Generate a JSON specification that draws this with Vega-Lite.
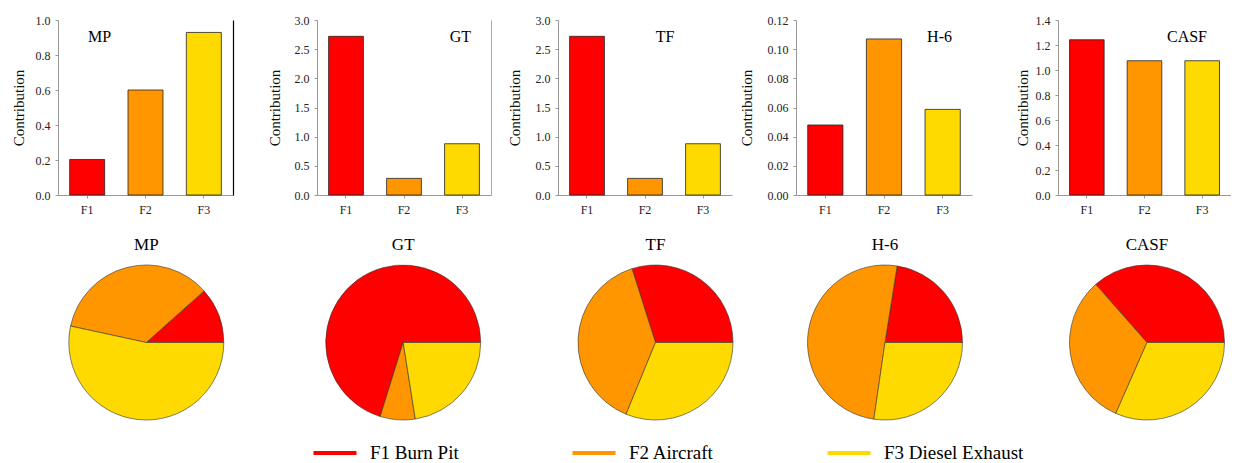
{
  "$schema": "https://vega.github.io/schema/vega-lite/v6.json",
  "padding": {"left": 11, "top": 14, "right": 0, "bottom": 0},
  "background": "white",
  "config": {
    "font": "Liberation Serif",
    "view": {"stroke": null},
    "axis": {
      "labelFont": "Liberation Serif",
      "titleFont": "Liberation Serif",
      "labelFontSize": 12,
      "labelColor": "#222",
      "titleFontSize": 15,
      "titleFontWeight": "normal",
      "titleColor": "#111",
      "domainColor": "#999",
      "tickColor": "#999",
      "tickSize": 3,
      "grid": false
    },
    "axisX": {"labelPadding": 6, "labelAngle": 0, "title": null},
    "axisY": {"labelPadding": 5, "titlePadding": 4},
    "title": {"font": "Liberation Serif", "fontWeight": "normal", "color": "#000"},
    "legend": {
      "orient": "none",
      "direction": "horizontal",
      "symbolType": "stroke",
      "symbolSize": 1850,
      "symbolStrokeWidth": 4,
      "labelFont": "Liberation Serif",
      "labelFontSize": 19,
      "labelColor": "#000",
      "labelOffset": 11,
      "columnPadding": 105,
      "labelLimit": 300
    }
  },
  "datasets": {
    "d": [
      {"site": "MP", "source": "F1", "contribution": 0.203, "share": 11.6},
      {"site": "MP", "source": "F2", "contribution": 0.600, "share": 35.0},
      {"site": "MP", "source": "F3", "contribution": 0.929, "share": 53.4},
      {"site": "GT", "source": "F1", "contribution": 2.72, "share": 70.2},
      {"site": "GT", "source": "F2", "contribution": 0.285, "share": 7.3},
      {"site": "GT", "source": "F3", "contribution": 0.879, "share": 22.5},
      {"site": "TF", "source": "F1", "contribution": 2.72, "share": 29.9},
      {"site": "TF", "source": "F2", "contribution": 0.285, "share": 38.9},
      {"site": "TF", "source": "F3", "contribution": 0.879, "share": 31.2},
      {"site": "H-6", "source": "F1", "contribution": 0.048, "share": 22.5},
      {"site": "H-6", "source": "F2", "contribution": 0.107, "share": 50.2},
      {"site": "H-6", "source": "F3", "contribution": 0.0587, "share": 27.3},
      {"site": "CASF", "source": "F1", "contribution": 1.242, "share": 36.5},
      {"site": "CASF", "source": "F2", "contribution": 1.074, "share": 31.9},
      {"site": "CASF", "source": "F3", "contribution": 1.074, "share": 31.6}
    ]
  },
  "spacing": 20,
  "vconcat": [
    {
      "spacing": 34,
      "hconcat": [
        {
          "width": 175, "height": 175,
          "title": {"text": "MP", "frame": "group", "anchor": "start", "dx": 30, "offset": -44, "baseline": "alphabetic", "fontSize": 16, "fontWeight": "normal"},
          "data": {"name": "d"},
          "transform": [{"filter": "datum.site === 'MP'"}],
          "layer": [
            {
              "mark": {"type": "line"},
              "encoding": {
                "x": {"field": "source", "type": "nominal"},
                "y": {"field": "contribution", "type": "quantitative", "axis": null},
                "color": {"field": "source", "type": "nominal",
                          "legend": {"title": null, "legendX": 253, "legendY": 409,
                                     "labelFont": "Liberation Serif", "labelFontSize": 19, "columnPadding": 105,
                                     "labelExpr": "datum.label == 'F1' ? 'F1 Burn Pit' : datum.label == 'F2' ? 'F2 Aircraft' : 'F3 Diesel Exhaust'",
                                     "encode": {"labels": {"update": {"font": {"value": "Liberation Serif"}}}}}}
              }
            },
            {
              "mark": {"type": "bar", "stroke": "#222", "strokeWidth": 0.8},
              "encoding": {
                "x": {"field": "source", "type": "nominal", "scale": {"paddingInner": 0.4, "paddingOuter": 0.2}},
                "y": {"field": "contribution", "type": "quantitative", "scale": {"domain": [0, 1.0], "nice": false},
                      "axis": {"title": "Contribution", "values": [0, 0.2, 0.4, 0.6, 0.8, 1.0], "format": ".1f", "minExtent": 28, "maxExtent": 28}},
                "color": {"field": "source", "type": "nominal",
                          "scale": {"domain": ["F1", "F2", "F3"], "range": ["#FF0000", "#FF9600", "#FFDA00"]}}
              }
            },
            {
              "mark": {"type": "tick", "opacity": 0},
              "encoding": {
                "y": {"field": "contribution", "type": "quantitative",
                      "axis": {"orient": "right", "labels": false, "ticks": false, "title": null, "domainColor": "#000", "domainWidth": 1.2}}
              }
            }
          ],
          "resolve": {"axis": {"y": "independent"}}
        },
        {
          "spacing": 16,
          "hconcat": [
            {
              "width": 174, "height": 175,
              "title": {"text": "GT", "frame": "group", "anchor": "end", "dx": -20, "offset": -44, "baseline": "alphabetic", "fontSize": 16, "fontWeight": "normal"},
              "data": {"name": "d"},
              "transform": [{"filter": "datum.site === 'GT'"}],
              "layer": [
                {
                  "mark": {"type": "bar", "stroke": "#222", "strokeWidth": 0.8},
                  "encoding": {
                    "x": {"field": "source", "type": "nominal", "scale": {"paddingInner": 0.4, "paddingOuter": 0.2}},
                    "y": {"field": "contribution", "type": "quantitative", "scale": {"domain": [0, 3.0], "nice": false},
                          "axis": {"title": "Contribution", "values": [0, 0.5, 1.0, 1.5, 2.0, 2.5, 3.0], "format": ".1f", "minExtent": 31, "maxExtent": 31}},
                    "color": {"field": "source", "type": "nominal"}
                  }
                },
                {
                  "mark": {"type": "tick", "opacity": 0},
                  "encoding": {
                    "y": {"field": "contribution", "type": "quantitative",
                          "axis": {"orient": "right", "labels": false, "ticks": false, "title": null, "domainColor": "#aaa"}}
                  }
                }
              ],
              "resolve": {"axis": {"y": "independent"}}
            },
            {
              "spacing": 7,
              "hconcat": [
                {
                  "width": 174, "height": 175,
                  "title": {"text": "TF", "frame": "group", "anchor": "middle", "dx": 20, "offset": -44, "baseline": "alphabetic", "fontSize": 16, "fontWeight": "normal"},
                  "data": {"name": "d"},
                  "transform": [{"filter": "datum.site === 'TF'"}],
                  "mark": {"type": "bar", "stroke": "#222", "strokeWidth": 0.8},
                  "encoding": {
                    "x": {"field": "source", "type": "nominal", "scale": {"paddingInner": 0.4, "paddingOuter": 0.2}},
                    "y": {"field": "contribution", "type": "quantitative", "scale": {"domain": [0, 3.0], "nice": false},
                          "axis": {"title": "Contribution", "values": [0, 0.5, 1.0, 1.5, 2.0, 2.5, 3.0], "format": ".1f", "minExtent": 32, "maxExtent": 32}},
                    "color": {"field": "source", "type": "nominal"}
                  }
                },
                {
                  "spacing": 43,
                  "hconcat": [
                    {
                      "width": 176, "height": 175,
                      "title": {"text": "H-6", "frame": "group", "anchor": "end", "dx": -20, "offset": -44, "baseline": "alphabetic", "fontSize": 16, "fontWeight": "normal"},
                      "data": {"name": "d"},
                      "transform": [{"filter": "datum.site === 'H-6'"}],
                      "mark": {"type": "bar", "stroke": "#222", "strokeWidth": 0.8},
                      "encoding": {
                        "x": {"field": "source", "type": "nominal", "scale": {"paddingInner": 0.4, "paddingOuter": 0.2}},
                        "y": {"field": "contribution", "type": "quantitative", "scale": {"domain": [0, 0.12], "nice": false},
                              "axis": {"title": "Contribution", "values": [0, 0.02, 0.04, 0.06, 0.08, 0.10, 0.12], "format": ".2f", "minExtent": 38, "maxExtent": 38}},
                        "color": {"field": "source", "type": "nominal"}
                      }
                    },
                    {
                      "width": 173, "height": 175,
                      "title": {"text": "CASF", "frame": "group", "anchor": "end", "dx": -24, "offset": -44, "baseline": "alphabetic", "fontSize": 16, "fontWeight": "normal"},
                      "data": {"name": "d"},
                      "transform": [{"filter": "datum.site === 'CASF'"}],
                      "mark": {"type": "bar", "stroke": "#222", "strokeWidth": 0.8},
                      "encoding": {
                        "x": {"field": "source", "type": "nominal", "scale": {"paddingInner": 0.4, "paddingOuter": 0.2}},
                        "y": {"field": "contribution", "type": "quantitative", "scale": {"domain": [0, 1.4], "nice": false},
                              "axis": {"title": "Contribution", "values": [0, 0.2, 0.4, 0.6, 0.8, 1.0, 1.2, 1.4], "format": ".1f", "minExtent": 24, "maxExtent": 24}},
                        "color": {"field": "source", "type": "nominal"}
                      }
                    }
                  ]
                }
              ]
            }
          ]
        }
      ]
    },
    {
      "spacing": 0,
      "hconcat": [
        {
          "width": 176.6, "height": 155,
          "title": {"text": "MP", "fontSize": 17, "offset": 10, "fontWeight": "normal"},
          "data": {"name": "d"},
          "transform": [{"filter": "datum.site === 'MP'"}],
          "mark": {"type": "arc", "stroke": "#333", "strokeWidth": 0.6},
          "encoding": {
            "theta": {"field": "share", "type": "quantitative", "stack": true, "scale": {"range": [1.5708, 7.854]}},
            "order": {"field": "source", "type": "nominal", "sort": "descending"},
            "color": {"field": "source", "type": "nominal"}
          }
        },
        {
          "width": 336.4, "height": 155,
          "title": {"text": "GT", "fontSize": 17, "offset": 10, "fontWeight": "normal"},
          "data": {"name": "d"},
          "transform": [{"filter": "datum.site === 'GT'"}],
          "mark": {"type": "arc", "stroke": "#333", "strokeWidth": 0.6},
          "encoding": {
            "theta": {"field": "share", "type": "quantitative", "stack": true, "scale": {"range": [1.5708, 7.854]}},
            "order": {"field": "source", "type": "nominal", "sort": "descending"},
            "color": {"field": "source", "type": "nominal"}
          }
        },
        {
          "width": 167, "height": 155,
          "title": {"text": "TF", "fontSize": 17, "offset": 10, "fontWeight": "normal"},
          "data": {"name": "d"},
          "transform": [{"filter": "datum.site === 'TF'"}],
          "mark": {"type": "arc", "stroke": "#333", "strokeWidth": 0.6},
          "encoding": {
            "theta": {"field": "share", "type": "quantitative", "stack": true, "scale": {"range": [1.5708, 7.854]}},
            "order": {"field": "source", "type": "nominal", "sort": "descending"},
            "color": {"field": "source", "type": "nominal"}
          }
        },
        {
          "spacing": 36.5,
          "hconcat": [
            {
              "width": 292, "height": 155,
              "title": {"text": "H-6", "fontSize": 17, "offset": 10, "fontWeight": "normal"},
              "data": {"name": "d"},
              "transform": [{"filter": "datum.site === 'H-6'"}],
              "mark": {"type": "arc", "stroke": "#333", "strokeWidth": 0.6},
              "encoding": {
                "theta": {"field": "share", "type": "quantitative", "stack": true, "scale": {"range": [1.5708, 7.854]}},
                "order": {"field": "source", "type": "nominal", "sort": "descending"},
                "color": {"field": "source", "type": "nominal"}
              }
            },
            {
              "width": 155, "height": 155,
              "title": {"text": "CASF", "fontSize": 17, "offset": 10, "fontWeight": "normal"},
              "data": {"name": "d"},
              "transform": [{"filter": "datum.site === 'CASF'"}],
              "mark": {"type": "arc", "stroke": "#333", "strokeWidth": 0.6},
              "encoding": {
                "theta": {"field": "share", "type": "quantitative", "stack": true, "scale": {"range": [1.5708, 7.854]}},
                "order": {"field": "source", "type": "nominal", "sort": "descending"},
                "color": {"field": "source", "type": "nominal"}
              }
            }
          ]
        }
      ]
    }
  ]
}
